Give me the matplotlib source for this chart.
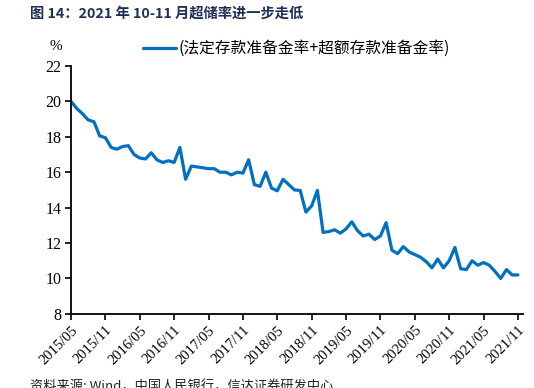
import pandas as pd
import matplotlib
matplotlib.use("Agg")
import matplotlib.pyplot as plt

# Monthly excess reserve-related ratio, 2015/05 - 2021/11
months = pd.period_range("2015-05", "2021-11", freq="M")
ratio = [
    20.0, 19.6, 19.3, 18.95, 18.85, 18.05, 17.95, 17.4, 17.3, 17.45,
    17.5, 17.0, 16.8, 16.75, 17.1, 16.7, 16.55, 16.65, 16.55, 17.4,
    15.6, 16.35, 16.3, 16.25, 16.2, 16.2, 16.0, 16.0, 15.85, 16.0,
    15.95, 16.7, 15.3, 15.2, 16.0, 15.1, 14.95, 15.6, 15.3, 15.0,
    14.97, 13.75, 14.1, 14.97, 12.6, 12.65, 12.75, 12.56, 12.8, 13.2,
    12.7, 12.4, 12.5, 12.2, 12.4, 13.15, 11.6, 11.4, 11.8, 11.5,
    11.35, 11.2, 10.95, 10.6, 11.1, 10.6, 11.0, 11.75, 10.55, 10.5,
    11.0, 10.75, 10.9, 10.75, 10.4, 10.0, 10.5, 10.2, 10.2,
]
labels = [m.strftime("%Y/%m") for m in months]
yticks = [8, 10, 12, 14, 16, 18, 20, 22]

title = "图 14：2021 年 10-11 月超储率进一步走低"
legend_label = "(法定存款准备金率+超额存款准备金率)"
source = "资料来源: Wind，中国人民银行，信达证券研发中心"

plt.rcParams['font.family'] = ['Liberation Serif', 'Noto Sans CJK SC', 'DejaVu Sans']
serif = ['Liberation Serif']

fig = plt.figure(figsize=(5.34, 3.88), dpi=100)
ax = fig.add_axes([0.133, 0.191, 0.846, 0.639])

x = list(range(len(ratio)))
ax.plot(x, ratio, color='#0070C0', linewidth=2.3, solid_joinstyle='round',
        solid_capstyle='round', label=legend_label)

ax.set_xlim(0, len(ratio) - 1 + 0.85)
ax.set_ylim(8, 22)
ax.set_yticks(yticks)
ax.set_yticklabels([str(v) for v in yticks], fontsize=11.5, family=serif)

tick_pos = x[::6]
ax.set_xticks(tick_pos)
ax.set_xticklabels([labels[i] for i in tick_pos], rotation=45, ha='right',
                   rotation_mode='anchor', fontsize=10.5, family=serif)

for side in ['top', 'right']:
    ax.spines[side].set_visible(False)
for side in ['left', 'bottom']:
    ax.spines[side].set_linewidth(1.3)
    ax.spines[side].set_color('black')
ax.tick_params(direction='out', length=4, width=1.2, colors='black', pad=3)

fig.text(0.093, 0.872, "%", fontsize=11, family=serif)

leg = ax.legend(loc='upper left', bbox_to_anchor=(0.145, 1.13), frameon=False,
                handlelength=2.1, handletextpad=0.15, borderaxespad=0,
                prop={'family': ['Noto Sans CJK SC'], 'size': 11.3})

fig.text(0.056, 0.965, title, fontsize=10.3, fontweight='bold', color='#1F2F55',
         family=['Noto Sans CJK SC'], va='center')
fig.text(0.056, 0.002, source, fontsize=9.5, style='italic', color='#222222',
         family=['Noto Sans CJK SC'], va='center')

fig.savefig("out.png", dpi=100)
